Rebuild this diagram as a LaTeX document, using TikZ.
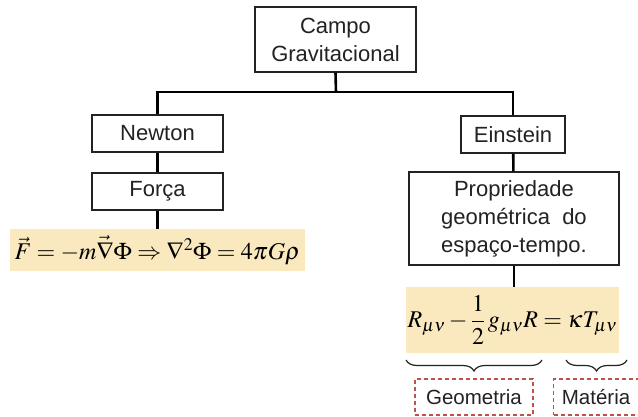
\documentclass[tikz,border=0pt]{standalone}
\usepackage{amsmath, amssymb}
\usepackage{mathptmx}
\usepackage[no-math]{fontspec}
\setmainfont{Liberation Sans}
\usepackage{tikz}
\usetikzlibrary{decorations.pathreplacing}
\definecolor{bandtan}{RGB}{250,232,190}
\definecolor{tagred}{RGB}{192,80,77}
\definecolor{inkgray}{RGB}{34,34,34}

\begin{document}
\begin{tikzpicture}[x=1pt, y=-1pt,
    box/.style={draw=inkgray, line width=1.2pt, fill=white, inner sep=0pt, align=center,
                text=inkgray, font=\fontsize{22}{28}\selectfont},
    band/.style={fill=bandtan, inner sep=0pt, text=black},
    tagbox/.style={draw=tagred, dashed, dash pattern=on 4pt off 3pt, line width=1.1pt,
                   inner sep=0pt, text=inkgray, font=\fontsize{20.5}{24}\selectfont},
    link/.style={draw=black, line width=2.6pt},
    curly/.style={draw=inkgray, line width=1.2pt, decorate,
                  decoration={brace, mirror, amplitude=11pt}}]
    \useasboundingbox (0,0) rectangle (638,416);
    \node[box, minimum width=161pt, minimum height=65pt] (campo) at (335.5,39.5) {Campo\\Gravitacional};
    \node[box, minimum width=131pt, minimum height=37pt] (newton) at (157.5,133.5) {Newton};
    \node[box, minimum width=104pt, minimum height=37pt] (einstein) at (513,134.5) {Einstein};
    \node[box, minimum width=131pt, minimum height=37pt] (forca) at (157.5,191.5) {Força};
    \node[box, minimum width=210pt, minimum height=93pt] (prop) at (514,218.5)
        {Propriedade\\geométrica\ \ do\\espaço-tempo.};
    \node[band, minimum width=295pt, minimum height=42pt] (eqn) at (157.5,250)
        {\fontsize{24}{28}\selectfont $\vec{F}=-m\vec{\nabla}\Phi\Rightarrow\nabla^{2}\Phi=4\pi G\rho$};
    \node[band, minimum width=213pt, minimum height=66pt] (eqe) at (512.5,320)
        {\fontsize{24}{28}\selectfont $R_{\mu\nu}-\dfrac{1}{2}\,g_{\mu\nu}R=\kappa T_{\mu\nu}$};
    \coordinate (split) at (336,92);
    \draw[link] (campo.south) -- (split);
    \draw[link] (split) -| (newton.north);
    \draw[link] (split) -| (einstein.north);
    \draw[link] (newton) -- (forca);
    \draw[link] (forca) -- (eqn);
    \draw[link] (einstein) -- (prop);
    \draw[link] (prop.south) -- (prop.south |- eqe.north);
    \coordinate (geoL) at (406,360);
    \coordinate (geoR) at (542,360);
    \coordinate (matL) at (566,360);
    \coordinate (matR) at (627,360);
    \draw[curly] (geoL) -- (geoR);
    \draw[curly] (matL) -- (matR);
    \node[tagbox, minimum width=118pt, minimum height=36pt] (geo) at (474,397) {Geometria};
    \node[tagbox, minimum width=95pt, minimum height=36pt, anchor=west] (mat) at (553,397)
        {\hspace*{-10pt}Matéria\hfill};
\end{tikzpicture}
\end{document}
